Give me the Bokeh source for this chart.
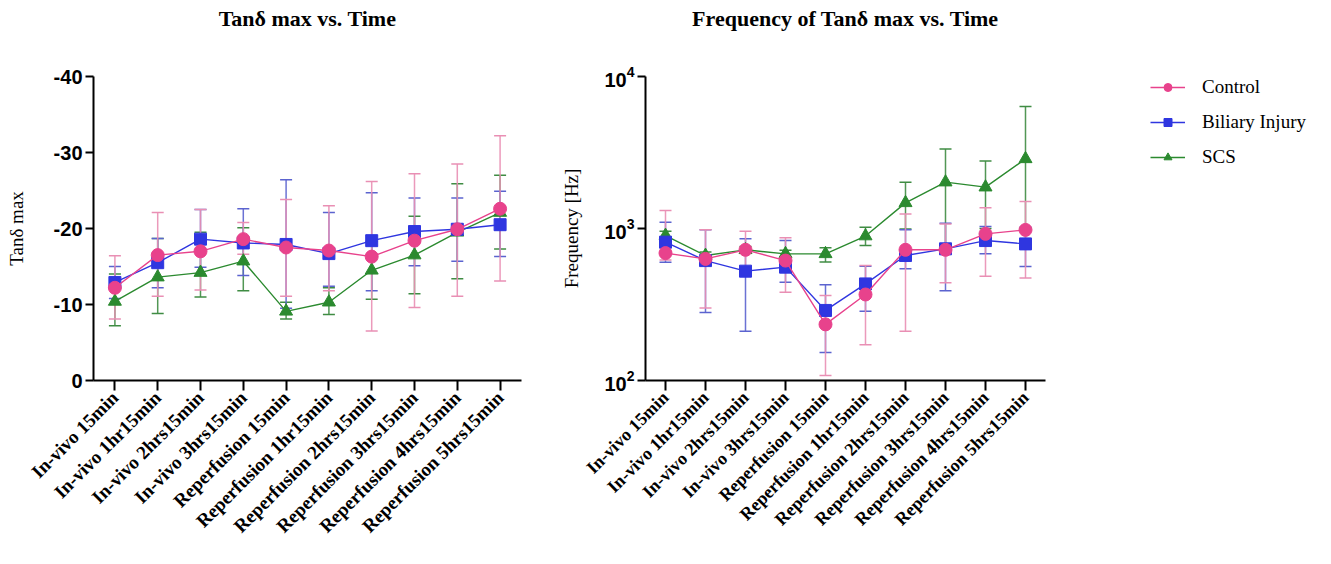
import math
from bokeh.plotting import figure
from bokeh.models import (Range1d, FactorRange, FixedTicker, Whisker, TeeHead, Label,
                          ColumnDataSource, Legend, LegendItem, LogTickFormatter)
from bokeh.layouts import row, column
from bokeh.embed import file_html
from bokeh.resources import INLINE

categories = ["In-vivo 15min", "In-vivo 1hr15min", "In-vivo 2hrs15min", "In-vivo 3hrs15min",
              "Reperfusion 15min", "Reperfusion 1hr15min", "Reperfusion 2hrs15min",
              "Reperfusion 3hrs15min", "Reperfusion 4hrs15min", "Reperfusion 5hrs15min"]

tan_ticks = [0, -10, -20, -30, -40]
tan_tick_labels = ["0", "-10", "-20", "-30", "-40"]
freq_ticks = [100, 1000, 10000]

# Tan delta max (mean, upper error end, lower error end)
tan_control = [-12.2, -16.5, -17.0, -18.6, -17.5, -17.1, -16.3, -18.4, -19.9, -22.6]
tan_control_hi = [-16.4, -22.1, -22.5, -20.8, -23.8, -23.0, -26.2, -27.2, -28.5, -32.2]
tan_control_lo = [-8.1, -11.1, -11.9, -16.6, -11.1, -11.8, -6.5, -9.6, -11.1, -13.1]

tan_biliary = [-12.9, -15.5, -18.6, -18.1, -17.9, -16.7, -18.4, -19.6, -19.9, -20.5]
tan_biliary_hi = [-15.0, -18.7, -22.5, -22.6, -26.4, -22.1, -24.7, -24.0, -24.0, -24.9]
tan_biliary_lo = [-10.8, -12.2, -14.9, -13.8, -9.5, -12.4, -11.8, -15.1, -15.7, -16.3]

tan_scs = [-10.4, -13.6, -14.2, -15.7, -9.1, -10.3, -14.5, -16.5, -19.5, -22.1]
tan_scs_hi = [-14.0, -18.7, -19.5, -20.1, -10.3, -12.2, -18.3, -21.6, -25.9, -27.0]
tan_scs_lo = [-7.2, -8.8, -11.0, -11.8, -8.1, -8.7, -10.7, -11.4, -13.4, -17.3]

# Frequency of tan delta max [Hz]
freq_control = [689, 631, 724, 615, 234, 368, 724, 724, 922, 979]
freq_control_hi = [1312, 980, 960, 868, 362, 571, 1248, 1070, 1369, 1507]
freq_control_lo = [620, 300, 560, 380, 108, 172, 211, 440, 486, 473]

freq_biliary = [813, 615, 524, 557, 289, 432, 664, 735, 833, 792]
freq_biliary_hi = [1100, 980, 855, 833, 427, 565, 980, 1083, 1030, 1020]
freq_biliary_lo = [600, 280, 211, 443, 153, 286, 543, 390, 681, 563]

freq_scs = [899, 664, 724, 681, 681, 892, 1475, 2018, 1870, 2871]
freq_scs_hi = [960, 700, 760, 720, 747, 1020, 2018, 3340, 2775, 6350]
freq_scs_lo = [840, 630, 690, 645, 601, 773, 991, 700, 1000, 1000]

series_names = ["Control", "Biliary Injury", "SCS"]
titles = ["Tanδ max vs. Time", "Frequency of Tanδ max vs. Time"]

SERIF = "Liberation Serif"
SANS = "Liberation Sans"

series_style = {
    "Control": dict(color="#e8428c", err="#e98fb4", marker="circle", size=13),
    "Biliary Injury": dict(color="#2f36e0", err="#5b63cf", marker="square", size=12),
    "SCS": dict(color="#2b8a2f", err="#3f8c43", marker="triangle", size=13),
}
freq_by_name = {"Control": freq_control, "Biliary Injury": freq_biliary, "SCS": freq_scs}

HEADER_H = 40


def bare_fig(width, height, **kw):
    p = figure(width=width, height=height, title=None, x_axis_location=None,
               y_axis_location=None, toolbar_location=None, output_backend="svg", **kw)
    p.outline_line_color = None
    p.xgrid.visible = False
    p.ygrid.visible = False
    return p


def header(width, text, cx):
    h = bare_fig(width, HEADER_H, min_border=0, x_range=Range1d(0, 1), y_range=Range1d(0, 1))
    h.add_layout(Label(x=cx, y=HEADER_H - 18, x_units="screen", y_units="screen", text=text,
                       text_font=SERIF, text_font_size="22px", text_font_style="bold",
                       text_color="black", text_align="center", text_baseline="middle"))
    return h


def style_fig(p, xlab_size, ylabel_standoff):
    p.outline_line_color = None
    p.xgrid.visible = False
    p.ygrid.visible = False
    for ax in (p.xaxis[0], p.yaxis[0]):
        ax.axis_line_width = 2
        ax.axis_line_color = "black"
        ax.major_tick_line_width = 2
        ax.major_tick_line_color = "black"
        ax.major_tick_in = 0
        ax.minor_tick_line_color = None
        ax.major_label_text_color = "black"
        ax.axis_label_text_color = "black"
    p.xaxis.major_tick_out = 10
    p.yaxis.major_tick_out = 8
    p.xaxis.major_label_orientation = math.pi / 4
    p.xaxis.major_label_text_font = SERIF
    p.xaxis.major_label_text_font_style = "bold"
    p.xaxis.major_label_text_font_size = xlab_size
    p.xaxis.major_label_standoff = 4
    p.yaxis.major_label_text_font = SANS
    p.yaxis.major_label_text_font_style = "bold"
    p.yaxis.major_label_text_font_size = "20px"
    p.yaxis.major_label_standoff = 3
    p.yaxis.axis_label_text_font = SERIF
    p.yaxis.axis_label_text_font_style = "normal"
    p.yaxis.axis_label_text_font_size = "19px"
    p.yaxis.axis_label_standoff = ylabel_standoff


def add_series(p, name, y, hi, lo):
    st = series_style[name]
    src = ColumnDataSource(dict(x=categories, y=y, hi=hi, lo=lo))
    w = Whisker(source=src, base="x", upper="hi", lower="lo", dimension="height",
                line_color=st["err"], line_width=1.5, line_alpha=0.9,
                upper_head=TeeHead(size=12, line_color=st["err"], line_width=1.5),
                lower_head=TeeHead(size=12, line_color=st["err"], line_width=1.5))
    p.add_layout(w)
    p.line(x="x", y="y", source=src, line_color=st["color"], line_width=1.4)
    p.scatter(x="x", y="y", source=src, marker=st["marker"], size=st["size"],
              fill_color=st["color"], line_color=st["color"])


MAIN_H = 564 - HEADER_H

# Left: Tan delta max
p1 = figure(width=540, height=MAIN_H, x_range=FactorRange(*categories), y_range=Range1d(0, -40),
            min_border_left=93, min_border_right=19, min_border_top=75 - HEADER_H,
            min_border_bottom=184, toolbar_location=None, output_backend="svg")
style_fig(p1, "19px", 24)
p1.yaxis.ticker = FixedTicker(ticks=tan_ticks)
p1.yaxis.major_label_overrides = dict(zip(tan_ticks, tan_tick_labels))
p1.yaxis.axis_label = "Tanδ max"
add_series(p1, "SCS", tan_scs, tan_scs_hi, tan_scs_lo)
add_series(p1, "Biliary Injury", tan_biliary, tan_biliary_hi, tan_biliary_lo)
add_series(p1, "Control", tan_control, tan_control_hi, tan_control_lo)

# Right: frequency
p2 = figure(width=510, height=MAIN_H, x_range=FactorRange(*categories),
            y_range=Range1d(100, 10000), y_axis_type="log",
            min_border_left=105, min_border_right=5, min_border_top=76 - HEADER_H,
            min_border_bottom=184, toolbar_location=None, output_backend="svg")
style_fig(p2, "18px", 19)
p2.yaxis.ticker = FixedTicker(ticks=freq_ticks)
p2.yaxis.formatter = LogTickFormatter()
p2.yaxis.axis_label = "Frequency [Hz]"
add_series(p2, "SCS", freq_scs, freq_scs_hi, freq_scs_lo)
add_series(p2, "Biliary Injury", freq_biliary, freq_biliary_hi, freq_biliary_lo)
add_series(p2, "Control", freq_control, freq_control_hi, freq_control_lo)

# Legend panel (its glyph renderers hold the series but lie outside the visible range)
p3 = bare_fig(281, MAIN_H, min_border_left=100, min_border_top=72 - HEADER_H,
              min_border_right=0, min_border_bottom=0,
              x_range=Range1d(-200, -100), y_range=Range1d(0, 1))
items = []
for name in series_names:
    st = series_style[name]
    src = ColumnDataSource(dict(x=list(range(len(categories))), y=freq_by_name[name]))
    ln = p3.line(x="x", y="y", source=src, line_color=st["color"], line_width=1.4)
    sc = p3.scatter(x="x", y="y", source=src, marker=st["marker"], size=st["size"],
                    fill_color=st["color"], line_color=st["color"])
    items.append(LegendItem(label=name, renderers=[ln, sc]))
legend = Legend(items=items, location="top_left", border_line_color=None,
                background_fill_alpha=0, label_text_font=SERIF, label_text_font_size="19px",
                label_text_color="black", glyph_width=35, glyph_height=20, label_height=20,
                spacing=13, label_standoff=17, padding=0, margin=0)
p3.add_layout(legend, "center")

h1 = header(540, titles[0], 307)
h2 = header(791, titles[1], 305)

layout = column(row(h1, h2), row(p1, p2, p3))
open("out.html", "w").write(file_html(layout, INLINE))
